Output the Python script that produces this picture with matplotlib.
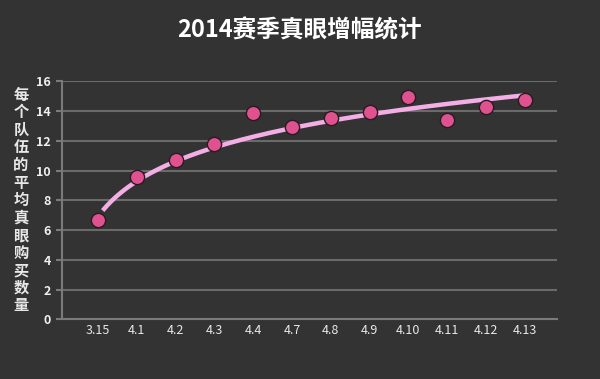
import numpy as np
import matplotlib.pyplot as plt

plt.rcParams['font.family'] = ['Noto Sans CJK SC', 'DejaVu Sans']

# 数据
dates = ['3.15', '4.1', '4.2', '4.3', '4.4', '4.7', '4.8', '4.9', '4.10', '4.11', '4.12', '4.13']
wards = [6.67, 9.55, 10.7, 11.75, 13.87, 12.89, 13.54, 13.94, 14.95, 13.38, 14.23, 14.74]
ylabel_text = '每个队伍的平均真眼购买数量'

bg = '#333333'
x = np.arange(len(dates))

# 对数趋势线 (Excel 风格: y = a*ln(n) + b, n = 1..N)
n = x + 1
a, b = np.polyfit(np.log(n), wards, 1)
xs = np.linspace(1, len(dates) - 0.15, 200)
trend = a * np.log(xs) + b

fig = plt.figure(figsize=(6, 3.79), dpi=100, facecolor=bg)
ax = fig.add_axes([0.1033, 0.157, 0.825, 0.629], facecolor=bg)

ax.plot(xs - 1 + 0.12, trend, color='#f4aee6', lw=3.2, solid_capstyle='butt', zorder=2)
ax.scatter(x, wards, s=105, color='#e0528f', edgecolors='#2b1a22', linewidths=1.0, zorder=3)

ax.set_ylim(0, 16)
ax.set_yticks(range(0, 17, 2))
ax.set_xlim(-0.93, 11.83)
ax.set_xticks(x)
ax.set_xticklabels(dates)

ax.grid(axis='y', color='#6a6a6a', lw=1.5)
ax.set_axisbelow(True)
for s in ['top', 'right']:
    ax.spines[s].set_visible(False)
for s in ['left', 'bottom']:
    ax.spines[s].set_color('#7a7a7a')
    ax.spines[s].set_linewidth(1.5)

ax.tick_params(axis='y', colors='#7a7a7a', length=4, width=1.5, labelcolor='#f0f0f0', labelsize=9, pad=4)
ax.tick_params(axis='x', length=0, labelcolor='#e8e8e8', labelsize=9, pad=3)
for lab in ax.get_yticklabels():
    lab.set_fontweight('bold')

fig.text(0.5, 0.921, '2014赛季真眼增幅统计', color='white', fontsize=17,
         fontweight='bold', ha='center', va='center')
fig.text(0.035, 0.472, '\n'.join(ylabel_text), color='#e8e8e8', fontsize=11,
         fontweight='bold', ha='center', va='center', linespacing=1.12)

fig.savefig('out.png', dpi=100, facecolor=bg)
